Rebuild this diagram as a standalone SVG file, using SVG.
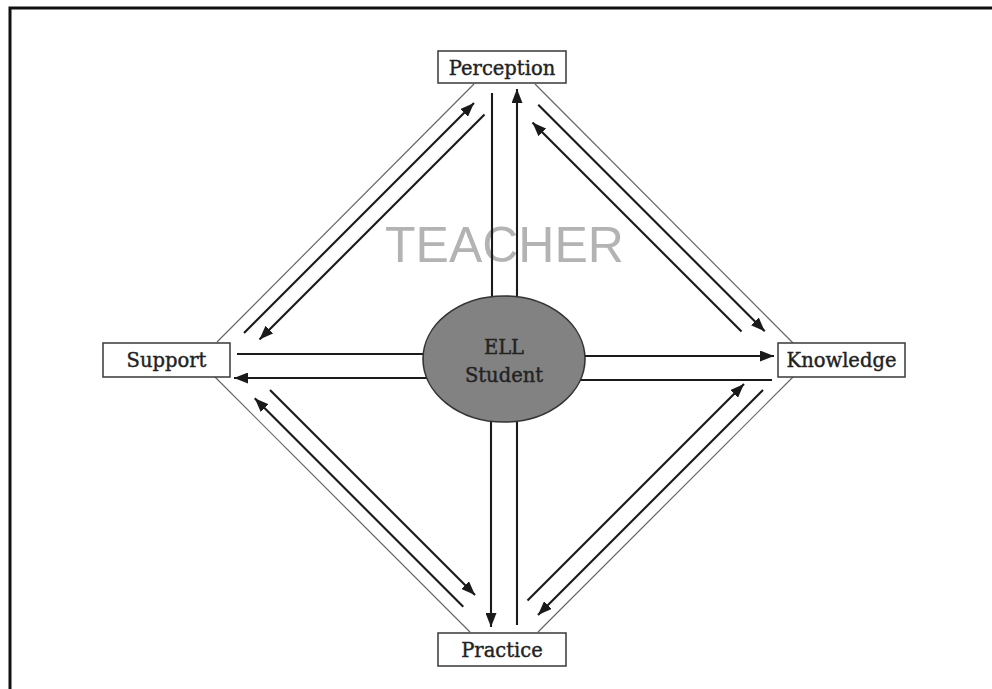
<svg xmlns="http://www.w3.org/2000/svg" width="992" height="689" viewBox="0 0 992 689">
<style>
.box{fill:#fff;stroke:#444;stroke-width:1.6}
.lbl{font-family:"DejaVu Serif","Liberation Serif",serif;font-size:19.5px;fill:#222;stroke:#222;stroke-width:0.4;text-anchor:middle}
.edge{stroke:#666;stroke-width:1.2;fill:none}
.arr{stroke:#1a1a1a;stroke-width:2.1;fill:none}
.ah{marker-end:url(#head)}
</style>
<defs>
<marker id="head" markerUnits="userSpaceOnUse" markerWidth="14" markerHeight="11" refX="14" refY="5.5" orient="auto">
<path d="M0,0 L14,5.5 L0,11 z" fill="#1a1a1a"/>
</marker>
</defs>
<rect width="992" height="689" fill="#fff"/>
<path d="M10,689 V8 H992" fill="none" stroke="#111" stroke-width="3"/>
<text x="385" y="262" font-family="Liberation Sans, Arial, sans-serif" font-size="50" fill="#b3b3b3">TEACHER</text>
<g id="connectors">
<line class="edge" x1="474" y1="84" x2="217" y2="342"/>
<line class="edge" x1="535" y1="84" x2="793" y2="343"/>
<line class="edge" x1="215" y1="377" x2="470" y2="632"/>
<line class="edge" x1="538" y1="632" x2="793" y2="377"/>
<line class="arr ah" x1="244" y1="333" x2="474" y2="103"/>
<line class="arr ah" x1="484.5" y1="114.5" x2="259.5" y2="339.5"/>
<line class="arr ah" x1="538.25" y1="104.75" x2="764.75" y2="331.25"/>
<line class="arr ah" x1="741.5" y1="331.5" x2="532.5" y2="122.5"/>
<line class="arr ah" x1="463.25" y1="606.75" x2="254.75" y2="398.25"/>
<line class="arr ah" x1="270" y1="390" x2="475" y2="595"/>
<line class="arr ah" x1="763" y1="390" x2="538" y2="615"/>
<line class="arr ah" x1="527.5" y1="600.5" x2="744" y2="384"/>
<line class="arr" x1="492" y1="93" x2="492" y2="310"/>
<line class="arr ah" x1="517" y1="310" x2="517" y2="89"/>
<line class="arr ah" x1="491" y1="410" x2="491" y2="627"/>
<line class="arr" x1="517" y1="625" x2="517" y2="410"/>
<line class="arr" x1="237" y1="354" x2="440" y2="354"/>
<line class="arr ah" x1="440" y1="378" x2="234" y2="378"/>
<line class="arr ah" x1="570" y1="356" x2="774" y2="356"/>
<line class="arr" x1="772" y1="380" x2="570" y2="380"/>
</g>
<g id="student">
<ellipse cx="504" cy="359" rx="81" ry="63" fill="#828282" stroke="#333" stroke-width="1.6"/>
<text class="lbl" x="504" y="354" font-size="21">ELL</text>
<text class="lbl" x="504" y="382" font-size="21">Student</text>
</g>
<g id="perception">
<rect class="box" x="438" y="51" width="128" height="32"/>
<text class="lbl" x="502" y="75">Perception</text>
</g>
<g id="support">
<rect class="box" x="103" y="343" width="127" height="34"/>
<text class="lbl" x="166.5" y="367">Support</text>
</g>
<g id="knowledge">
<rect class="box" x="778" y="343" width="127" height="34"/>
<text class="lbl" x="841.5" y="367">Knowledge</text>
</g>
<g id="practice">
<rect class="box" x="438" y="633" width="128" height="33"/>
<text class="lbl" x="502" y="657">Practice</text>
</g>
</svg>
